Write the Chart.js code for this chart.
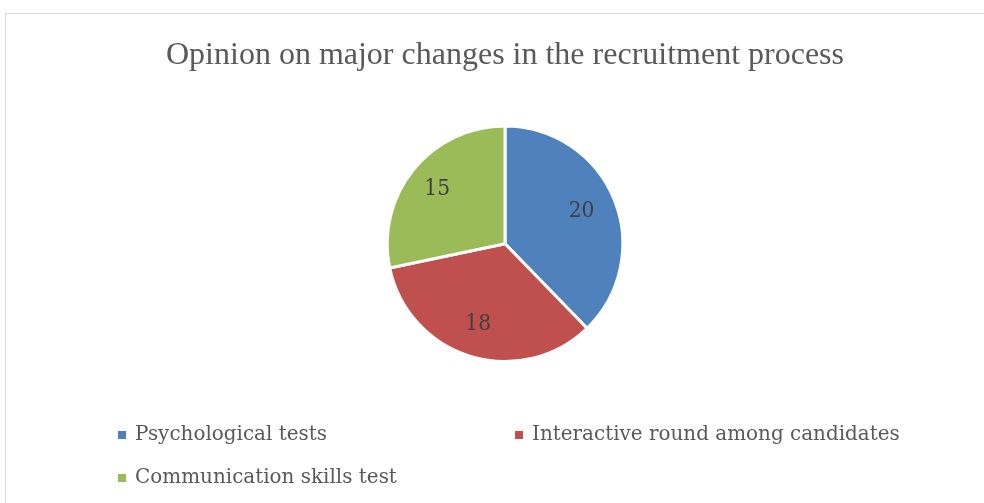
<!DOCTYPE html>
<html>
<head>
<meta charset="utf-8">
<script src="https://cdn.jsdelivr.net/npm/chart.js@4.4.0/dist/chart.umd.min.js"></script>
<style>
  html, body { margin: 0; padding: 0; background: #fff; }
  #frame { position: absolute; left: 5px; top: 13px; width: 1100px; height: 600px; border: 1px solid #d9d9d9; }
  #wrap { position: absolute; left: 0; top: 0; width: 984px; height: 503px; }
</style>
</head>
<body>
<div id="frame"></div>
<div id="wrap"><canvas id="chart" width="984" height="503"></canvas></div>
<script>
// valores
var categorias = ['Psychological tests', 'Interactive round among candidates', 'Communication skills test'];
var respostas = [20, 18, 15];
var cores = ['#4F81BD', '#C0504D', '#9BBB59'];

// rotulos dentro das fatias
var rotulosPlugin = {
    id: 'rotulos',
    afterDatasetsDraw: function(chart) {
        var ctx = chart.ctx;
        var meta = chart.getDatasetMeta(0);
        ctx.save();
        ctx.font = '23px "DejaVu Serif"';
        ctx.fillStyle = '#404040';
        ctx.textAlign = 'center';
        ctx.textBaseline = 'middle';
        meta.data.forEach(function(arc, i) {
            var p = arc.getProps(['x', 'y', 'startAngle', 'endAngle', 'outerRadius'], true);
            var meio = (p.startAngle + p.endAngle) / 2;
            var r = p.outerRadius * 0.72;
            var x = p.x + Math.cos(meio) * r - 2;
            var y = p.y + Math.sin(meio) * r - 1;
            ctx.save();
            ctx.translate(x, y);
            ctx.scale(0.88, 1);
            ctx.fillText(chart.data.datasets[0].data[i], 0, 0);
            ctx.restore();
        });
        ctx.restore();
    }
};

// legenda em duas colunas
var legendaPlugin = {
    id: 'legenda',
    afterDraw: function(chart) {
        var ctx = chart.ctx;
        var colunas = [118, 515];
        var linhas = [435, 478];
        ctx.save();
        ctx.font = '21px "DejaVu Serif"';
        ctx.textBaseline = 'middle';
        var escala = 192 / ctx.measureText(chart.data.labels[0]).width;
        chart.data.labels.forEach(function(label, i) {
            var x = colunas[i % 2];
            var y = linhas[Math.floor(i / 2)];
            ctx.fillStyle = chart.data.datasets[0].backgroundColor[i];
            ctx.fillRect(x, y - 4, 8, 8);
            ctx.save();
            ctx.translate(x + 17, y);
            ctx.scale(escala, 1);
            ctx.fillStyle = '#595959';
            ctx.fillText(label, 0, 0);
            ctx.restore();
        });
        ctx.restore();
    }
};

var ctx = document.getElementById('chart').getContext('2d');
var myChart = new Chart(ctx, {
    type: 'pie',
    data: {
        labels: categorias,
        datasets: [{
            data: respostas,
            backgroundColor: cores,
            borderColor: '#ffffff',
            borderWidth: 3
        }]
    },
    options: {
        responsive: false,
        animation: false,
        layout: {
            padding: { left: 26, right: 0, top: 0, bottom: 140 }
        },
        plugins: {
            legend: { display: false },
            tooltip: { enabled: false },
            title: {
                display: true,
                text: 'Opinion on major changes in the recruitment process',
                color: '#595959',
                font: { family: '"Liberation Serif"', size: 32, weight: 'normal', lineHeight: 1.2 },
                padding: { top: 36, bottom: 50 }
            }
        }
    },
    plugins: [rotulosPlugin, legendaPlugin]
});
</script>
</body>
</html>
